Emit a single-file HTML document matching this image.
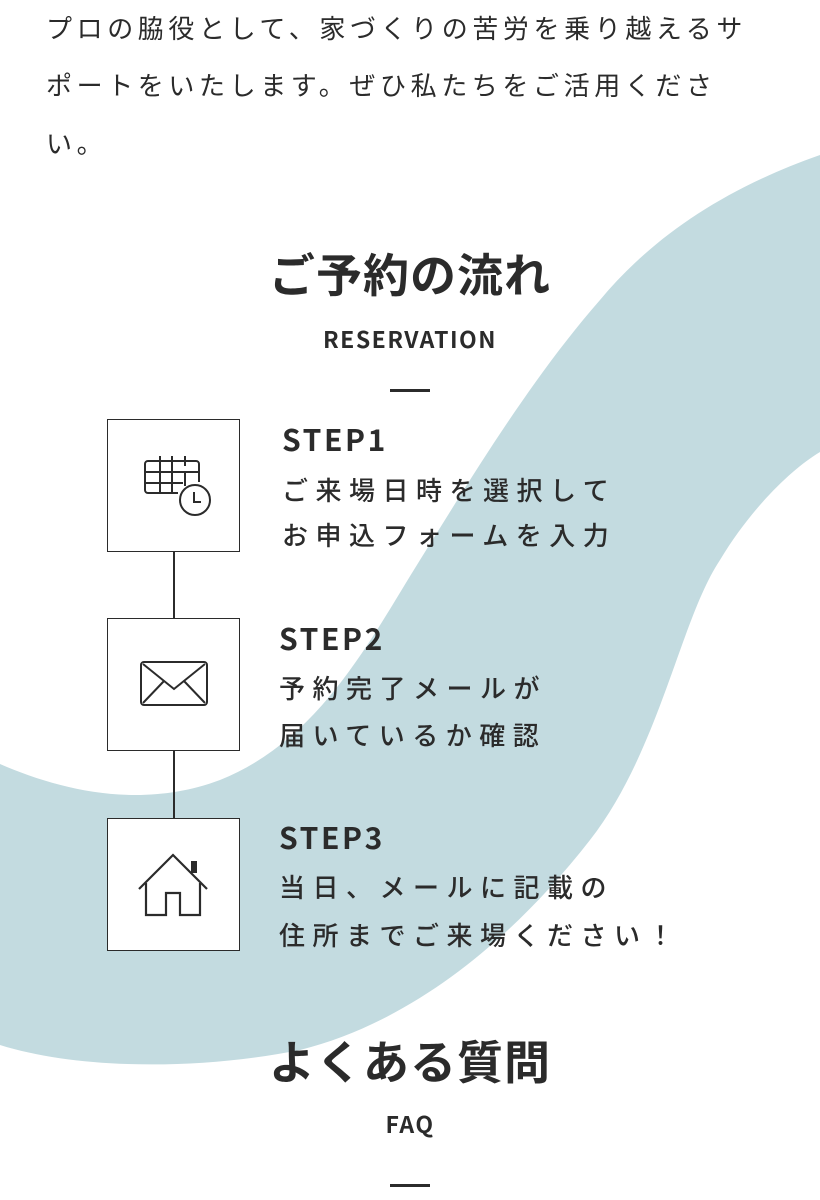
<!DOCTYPE html>
<html><head><meta charset="utf-8"><style>
html,body{margin:0;padding:0;width:820px;height:1200px;overflow:hidden;background:#fff}
body{position:relative;font-family:"Noto Sans CJK JP","Liberation Sans",sans-serif;color:#2b2b2b}
.a{position:absolute;white-space:nowrap}
.p{left:46px;font-size:26px;letter-spacing:4.6px;line-height:36px}
.h{left:0;width:820px;text-align:center;font-weight:700}
.t{font-size:46px;line-height:56px;letter-spacing:1px}
.s{font-size:23px;line-height:30px;letter-spacing:1.5px}
.d{position:absolute;left:390px;width:40px;height:3px;background:#2b2b2b}
.box{position:absolute;left:107px;width:131px;height:131px;border:1.5px solid #2b2b2b;background:#fff}
.st{font-size:30px;font-weight:700;letter-spacing:2.6px;line-height:36px}
.tx{font-size:26px;letter-spacing:7.5px;line-height:36px;font-weight:500}
.ln{position:absolute;left:173px;width:1.5px;background:#2b2b2b}
</style></head><body>
<svg class="a" style="left:0;top:0" width="820" height="1200">
<path fill="#c3dbe0" d="M820,155 C720,190 650,240 600,300 C530,380 470,480 420,560 C370,640 320,740 220,780 C140,810 60,790 0,764 L0,1045 C80,1070 200,1070 300,1050 C420,1020 520,930 590,840 C660,750 680,620 720,560 C750,510 790,470 820,452 Z"/>
</svg>
<div class="a p" style="top:10px">プロの脇役として、家づくりの苦労を乗り越えるサ</div>
<div class="a p" style="top:67px">ポートをいたします。ぜひ私たちをご活用くださ</div>
<div class="a p" style="top:125px">い。</div>
<div class="a h t" style="top:245px">ご予約の流れ</div>
<div class="a h s" style="top:323px">RESERVATION</div>
<div class="d" style="top:389px"></div>
<div class="ln" style="top:552px;height:67px"></div>
<div class="ln" style="top:751px;height:68px"></div>
<div class="box" style="top:419px">
<svg width="131" height="131" viewBox="0 0 131 131" fill="none" stroke="#2b2b2b" stroke-width="2">
<path d="M70,73 H40 a3,3 0 0 1 -3,-3 V44 a3,3 0 0 1 3,-3 H88 a3,3 0 0 1 3,3 V62"/>
<path d="M37,52 H91 M37,63 H75 M52,41 V73 M64,41 V73 M77,52 V66 M52,36 V46 M64,36 V46 M77,36 V46"/>
<circle cx="87" cy="80" r="15" fill="#fff"/>
<path d="M86,72 V82 H93"/>
</svg></div>
<div class="box" style="top:618px">
<svg width="131" height="131" viewBox="0 0 131 131" fill="none" stroke="#2b2b2b" stroke-width="2">
<rect x="33" y="43" width="66" height="43" rx="3"/>
<path d="M35,45 L66,70 L97,45 M35,84 L56,62 M97,84 L76,62"/>
</svg></div>
<div class="box" style="top:818px">
<svg width="131" height="131" viewBox="0 0 131 131" fill="none" stroke="#2b2b2b" stroke-width="2.2">
<path d="M31,70 L65,36 L99,70"/>
<path d="M38,64 V96 H58 V74 H72 V96 H92 V64"/>
<rect x="83" y="42" width="6" height="12" fill="#2b2b2b" stroke="none"/>
</svg></div>
<div class="a st" style="left:282px;top:420px">STEP1</div>
<div class="a tx" style="left:282px;top:472px">ご来場日時を選択して</div>
<div class="a tx" style="left:282px;top:517px">お申込フォームを入力</div>
<div class="a st" style="left:279px;top:619px">STEP2</div>
<div class="a tx" style="left:279px;top:670px">予約完了メールが</div>
<div class="a tx" style="left:279px;top:717px">届いているか確認</div>
<div class="a st" style="left:279px;top:818px">STEP3</div>
<div class="a tx" style="left:279px;top:869px">当日、メールに記載の</div>
<div class="a tx" style="left:279px;top:917px">住所までご来場ください！</div>
<div class="a h t" style="top:1032px">よくある質問</div>
<div class="a h s" style="top:1108px">FAQ</div>
<div class="d" style="top:1184px"></div>
</body></html>
